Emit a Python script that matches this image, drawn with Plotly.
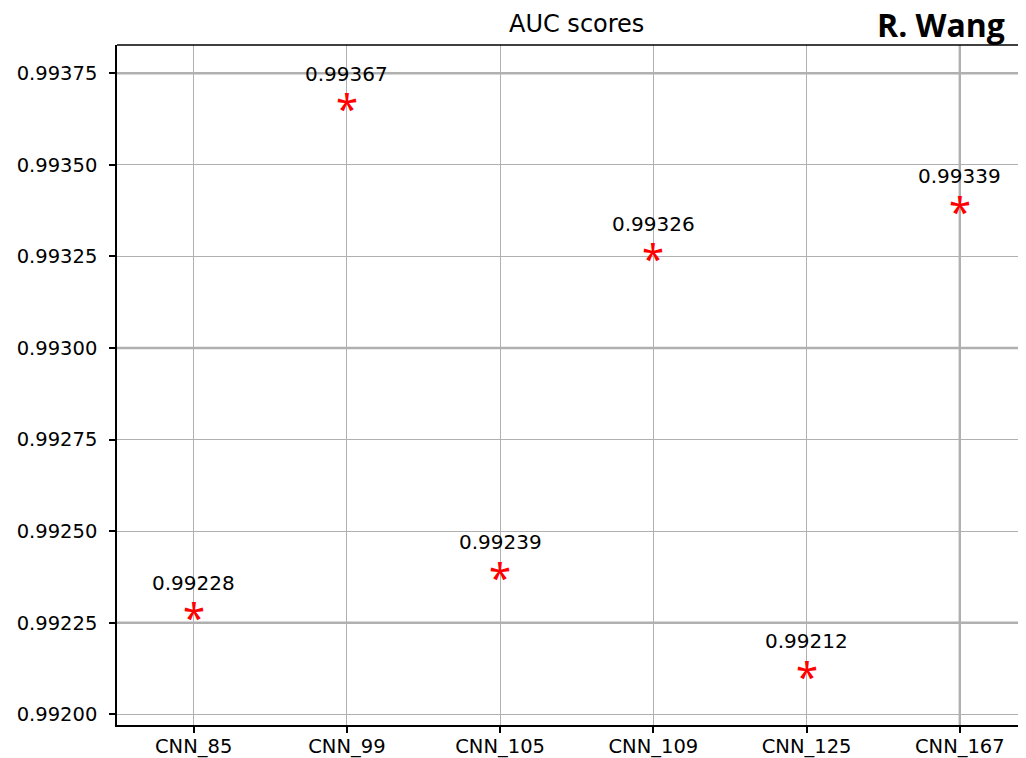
import plotly.graph_objects as go

models = ["CNN_85", "CNN_99", "CNN_105", "CNN_109", "CNN_125", "CNN_167"]
auc = [0.99228, 0.99367, 0.99239, 0.99326, 0.99212, 0.99339]
yticks = [0.99200, 0.99225, 0.99250, 0.99275, 0.99300, 0.99325, 0.99350, 0.99375]
# grid lines that look heavier in the original picture
heavy_y = [0.99375, 0.99300, 0.99225]
heavy_x = ["CNN_167"]

FONT = "DejaVu Sans"

fig = go.Figure()
# invisible scatter so the axes know the data
fig.add_trace(go.Scatter(x=models, y=auc, mode="markers",
                         marker=dict(size=1, opacity=0), hoverinfo="skip", showlegend=False))

for yv in heavy_y:
    fig.add_shape(type="line", xref="paper", yref="y", x0=0, x1=1, y0=yv, y1=yv,
                  line=dict(color="#b0b0b0", width=2.4), layer="below")
for xv in heavy_x:
    fig.add_shape(type="line", xref="x", yref="paper", x0=xv, x1=xv, y0=0, y1=1,
                  line=dict(color="#b0b0b0", width=2.4), layer="below")

for m, v in zip(models, auc):
    # five-armed asterisk marker
    fig.add_annotation(x=m, y=v, text="*", showarrow=False, yshift=-5, yanchor="middle",
                       font=dict(family="Noto Sans", size=40, color="#ff0000"))
    fig.add_annotation(x=m, y=v, text=f"{v:.5f}", showarrow=False, yshift=29, yanchor="middle",
                       font=dict(family=FONT, size=20, color="#000000"))

fig.add_annotation(xref="paper", yref="paper", x=0.505, y=1.0, yshift=21, yanchor="middle",
                   text="AUC scores", showarrow=False,
                   font=dict(family=FONT, size=24, color="#000000"))
fig.add_annotation(xref="paper", yref="paper", x=1.0, xshift=-19, y=1.0, yshift=21, xanchor="right",
                   yanchor="middle", text="<b>R. Wang</b>", showarrow=False,
                   font=dict(family="Open Sans", size=32, color="#000000"))

# the page body has an 8px margin, so the figure is 8px smaller each way
fig.update_layout(
    width=1018, height=750,
    margin=dict(l=109, r=0, t=37, b=33, autoexpand=False),
    plot_bgcolor="white", paper_bgcolor="white",
    font=dict(family=FONT, size=20, color="#000000"),
)
axis_common = dict(
    showgrid=True, gridcolor="#b0b0b0", gridwidth=1.2,
    showline=True, linecolor="black", linewidth=1.5, mirror=False,
    ticks="outside", ticklen=6, tickcolor="black", tickwidth=1.5,
    tickfont=dict(family=FONT, size=19.5, color="#000000"), zeroline=False,
    automargin=False,
)
fig.update_xaxes(type="category", categoryorder="array", categoryarray=models,
                 range=[-0.5, 5.432], ticklabelstandoff=-3, **axis_common)
fig.update_yaxes(range=[0.9919708, 0.9938273], tickvals=yticks, tickformat=".5f",
                 ticklabelstandoff=8, **axis_common)
# top spine
fig.add_shape(type="line", xref="paper", yref="paper", x0=0, x1=1, y0=1, y1=1,
              line=dict(color="black", width=1.5))

fig.write_html("out.html")
